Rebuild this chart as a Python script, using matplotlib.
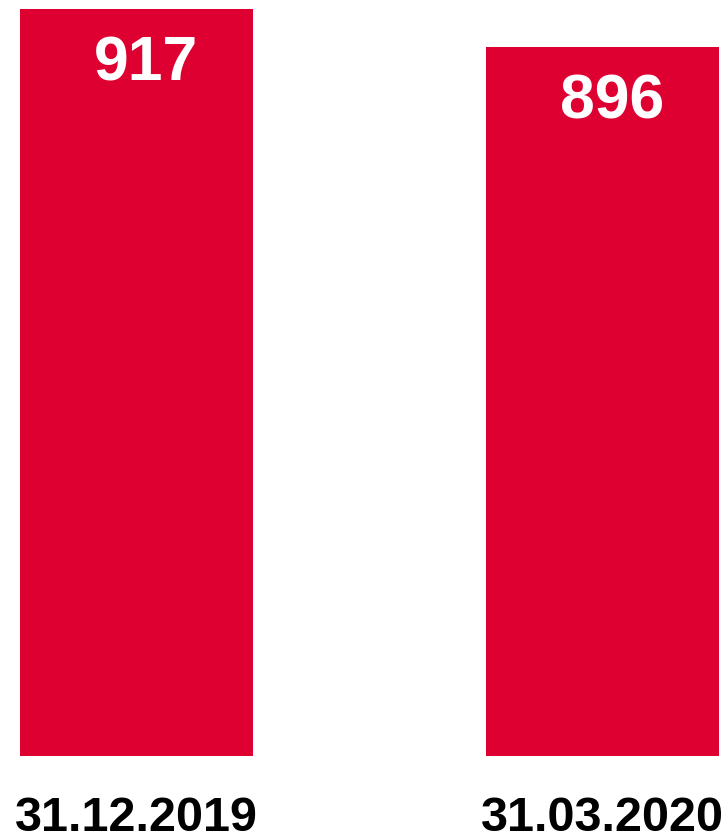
import matplotlib.pyplot as plt

dates = ['31.12.2019', '31.03.2020']
values = [917, 896]

plt.rcParams['font.family'] = ['Liberation Sans', 'DejaVu Sans']

fig = plt.figure(figsize=(7.27, 8.37), dpi=100)
# axes: bar bottoms at px 757, top of 917 at px 10
ax = fig.add_axes([0, (837 - 757) / 837, 1, 747 / 837])

pos = [0, 1]
ax.bar(pos, values, width=0.5, color='#DF0032')
ax.set_xlim(-136.5 / 466, 1 + (727 - 602.5) / 466)
ax.set_ylim(504.2, 917)

for x, v in zip(pos, values):
    ax.annotate(str(v), (x, v), xytext=(7, -39), textcoords='offset points',
                ha='center', va='center', color='white', fontsize=45,
                fontweight='bold')

ax.set_xticks(pos)
ax.set_xticklabels(dates, fontsize=35, fontweight='bold')
ax.tick_params(axis='x', length=0, pad=28)
ax.set_yticks([])
for s in ax.spines.values():
    s.set_visible(False)

fig.savefig('out.png', dpi=100)
